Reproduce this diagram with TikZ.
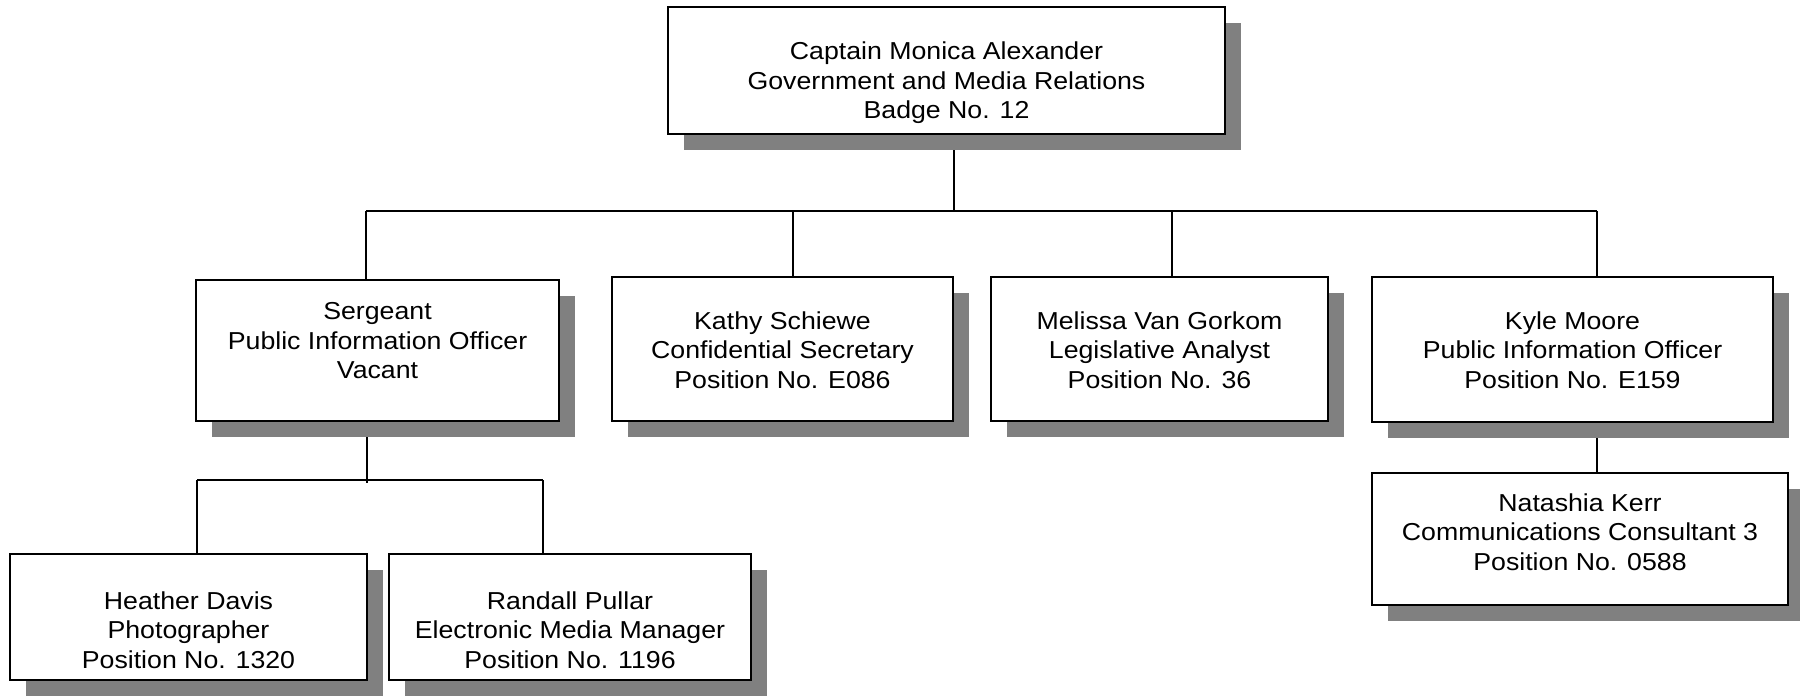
\documentclass[tikz,border=0pt]{standalone}
\usepackage{fontspec}
\setmainfont[FakeStretch=1.09]{Liberation Sans}
\usetikzlibrary{shadows}
\pgfdeclarelayer{background}
\pgfsetlayers{background,main}
\definecolor{shadowgray}{HTML}{808080}

\begin{document}
\begin{tikzpicture}[x=1pt,y=-1pt,
  orgbox/.style={draw=black, line width=2pt, fill=white, inner sep=0pt, outer sep=0pt,
    drop shadow={shadow xshift=16pt, shadow yshift=-16pt, fill=shadowgray, opacity=1}},
  orgtext/.style={align=center, font=\fontsize{24.5}{29.5}\selectfont, inner sep=0pt},
  link/.style={draw=black, line width=1.4pt}]

\useasboundingbox (0,0) rectangle (1800,697);

% boxes
\node[orgbox, minimum width=557pt, minimum height=127pt] (chief) at (946.5,70.5) {};
\node[orgtext] (chiefT) at (946.5,83) {Captain Monica Alexander\\Government and Media Relations\\Badge No. 12};

\node[orgbox, minimum width=363pt, minimum height=141pt] (serg) at (377.5,350.5) {};
\node[orgtext] (sergT) at (377.5,341) {Sergeant\\Public Information Officer\\Vacant};

\node[orgbox, minimum width=341pt, minimum height=144pt] (kathy) at (782.5,349) {};
\node[orgtext] (kathyT) at (782.5,350) {Kathy Schiewe\\Confidential Secretary\\Position No. E086};

\node[orgbox, minimum width=337pt, minimum height=144pt] (melissa) at (1159.5,349) {};
\node[orgtext] (melissaT) at (1159.5,350) {Melissa Van Gorkom\\Legislative Analyst\\Position No. 36};

\node[orgbox, minimum width=401pt, minimum height=145pt] (kyle) at (1572.5,349.5) {};
\node[orgtext] (kyleT) at (1572.5,350) {Kyle Moore\\Public Information Officer\\Position No. E159};

\node[orgbox, minimum width=416pt, minimum height=132pt] (natasha) at (1580,539) {};
\node[orgtext] (natashaT) at (1580,532) {Natashia Kerr\\Communications Consultant 3\\Position No. 0588};

\node[orgbox, minimum width=357pt, minimum height=126pt] (heather) at (188.5,617) {};
\node[orgtext] (heatherT) at (188.5,630) {Heather Davis\\Photographer\\Position No. 1320};

\node[orgbox, minimum width=362pt, minimum height=126pt] (randall) at (570,617) {};
\node[orgtext] (randallT) at (570,630) {Randall Pullar\\Electronic Media Manager\\Position No. 1196};

% connectors, drawn behind the boxes
\begin{pgfonlayer}{background}
\coordinate (chiefJ) at (954,211);
\coordinate (sergJ) at (366,211);
\coordinate (kathyJ) at (793,211);
\coordinate (melissaJ) at (1172,211);
\coordinate (kyleJ) at (1597,211);
\coordinate (subJ) at (367,480);
\coordinate (heatherJ) at (197,480);
\coordinate (randallJ) at (543,480);

\draw[link] (chiefJ |- chief.south) -- (chiefJ);
\draw[link] (sergJ) -- (kyleJ);
\draw[link] (sergJ) -- (sergJ |- serg.north);
\draw[link] (kathyJ) -- (kathyJ |- kathy.north);
\draw[link] (melissaJ) -- (melissaJ |- melissa.north);
\draw[link] (kyleJ) -- (kyleJ |- kyle.north);

\draw[link] (subJ |- serg.south) -- ([yshift=-3pt]subJ);
\draw[link] (heatherJ) -- (randallJ);
\draw[link] (heatherJ) -- (heatherJ |- heather.north);
\draw[link] (randallJ) -- (randallJ |- randall.north);

\draw[link] (kyleJ |- kyle.south) -- (kyleJ |- natasha.north);
\end{pgfonlayer}
\end{tikzpicture}
\end{document}
